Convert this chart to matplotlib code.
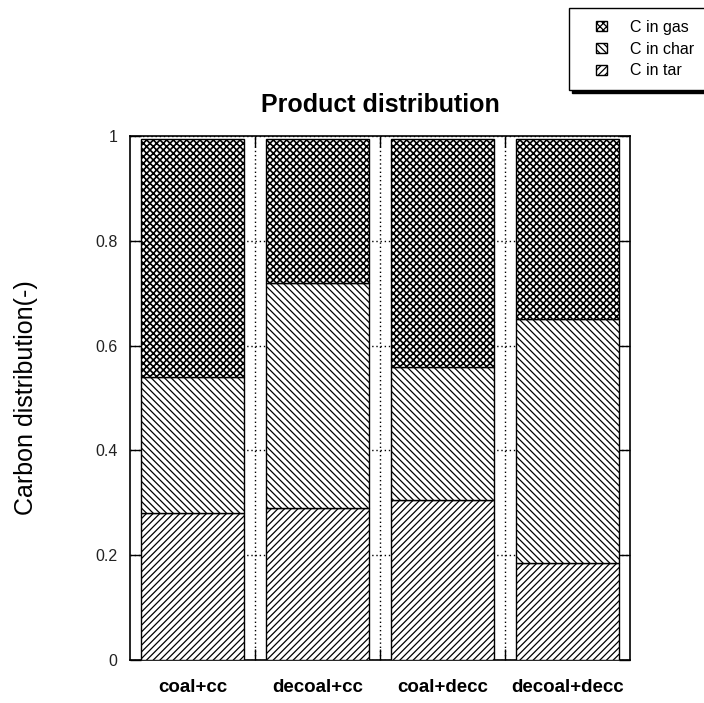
import matplotlib
matplotlib.use("Agg")
import matplotlib.pyplot as plt
from matplotlib.patches import Rectangle
from matplotlib.legend_handler import HandlerPatch
import numpy as np

plt.rcParams['font.family'] = ['Liberation Sans', 'DejaVu Sans']
plt.rcParams['hatch.linewidth'] = 0.9

# carbon fractions per case
cases = ['coal+cc', 'decoal+cc', 'coal+decc', 'decoal+decc']
c_tar = [0.28, 0.29, 0.305, 0.185]
c_char = [0.26, 0.43, 0.255, 0.465]
c_gas = [0.455, 0.275, 0.435, 0.345]
y_ticks = [0, 0.2, 0.4, 0.6, 0.8, 1]
y_ticklabels = ['0', '0.2', '0.4', '0.6', '0.8', '1']


def small_square(legend, orig_handle, xdescent, ydescent, width, height, fontsize):
    # square patch pushed to the right end of the handle box
    return Rectangle((width - height - xdescent, -ydescent), height, height)


fig = plt.figure(figsize=(7.04, 7.03), dpi=100)
ax = fig.add_axes([130 / 704, 43 / 703, 500 / 704, 524 / 703])

x = np.arange(len(cases)) + 0.5
width = 0.824
bottom_char = np.array(c_tar)
bottom_gas = bottom_char + np.array(c_char)

bar_kw = dict(width=width, color='white', edgecolor='black', linewidth=1.0, zorder=3)
b_tar = ax.bar(x, c_tar, hatch='/////', label='C in tar', **bar_kw)
b_char = ax.bar(x, c_char, bottom=bottom_char, hatch='\\\\\\\\\\', label='C in char', **bar_kw)
with plt.rc_context({'hatch.linewidth': 1.2}):
    b_gas = ax.bar(x, c_gas, bottom=bottom_gas, hatch='xxxxx', label='C in gas', **bar_kw)

ax.set_xlim(0, len(cases))
ax.set_ylim(0, 1)

# category separators as ticks + dotted grid
ax.set_xticks([1, 2, 3])
ax.set_xticklabels([])
ax.set_xticks(x, minor=True)
ax.set_xticklabels(cases, minor=True, fontsize=13.5, fontweight='bold')
ax.tick_params(axis='x', which='major', direction='in', length=8, width=1,
               top=True, bottom=True)
ax.tick_params(axis='x', which='minor', length=0, pad=14)

ax.set_yticks(y_ticks)
ax.set_yticklabels(y_ticklabels, fontsize=11.5, color='#222222')
ax.tick_params(axis='y', direction='in', length=8, width=1, left=True, right=True, pad=9)

ax.set_axisbelow(True)
ax.grid(True, which='major', linestyle=(0, (1, 2)), color='black', linewidth=1.0)

for s in ax.spines.values():
    s.set_linewidth(1.2)

ax.set_title('Product distribution', fontsize=18, fontweight='bold', pad=17)
ax.set_ylabel('Carbon distribution(-)', fontsize=18)
ax.yaxis.set_label_coords(-0.184, 0.5)

leg = fig.legend(handles=[b_gas[0], b_char[0], b_tar[0]],
                 labels=['C in gas', 'C in char', 'C in tar'],
                 loc='upper left', bbox_to_anchor=(569 / 704, 1 - 8 / 703),
                 bbox_transform=fig.transFigure, borderaxespad=0,
                 fontsize=11.5, fancybox=False, framealpha=1, edgecolor='black',
                 shadow={'color': 'black', 'alpha': 1},
                 borderpad=0.75, labelspacing=0.42, handlelength=1.6,
                 handleheight=0.6, handletextpad=1.5,
                 handler_map={Rectangle: HandlerPatch(patch_func=small_square)})
leg.get_frame().set_linewidth(1.0)

fig.savefig('out.png', dpi=100)
